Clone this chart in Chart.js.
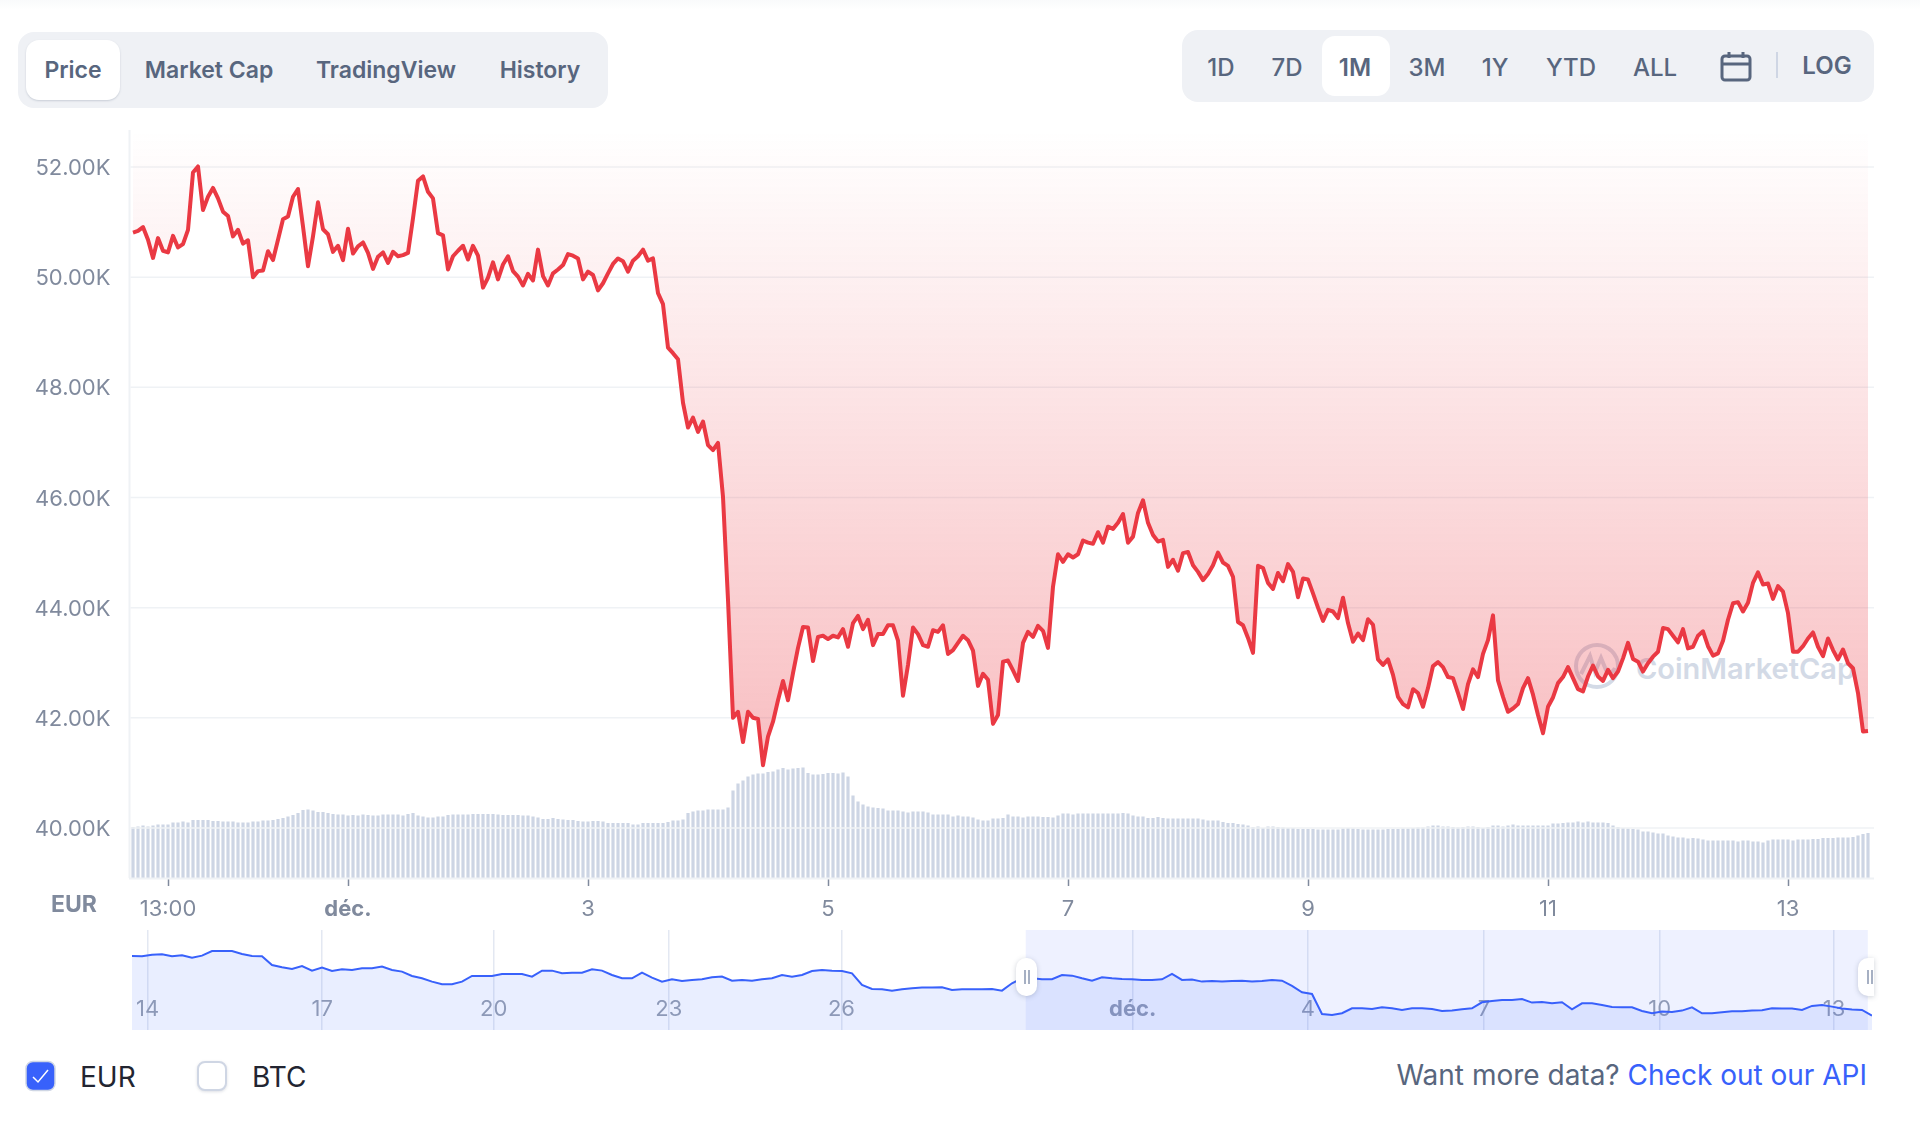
<!DOCTYPE html>
<html>
<head>
<meta charset="utf-8">
<title>Price chart</title>
<script src="https://cdn.jsdelivr.net/npm/chart.js@4/dist/chart.umd.min.js"></script>
<style>
    body { margin: 0; width: 1920px; height: 1126px; position: relative; overflow: hidden; background: #fff; font-family: Inter, sans-serif; }
    canvas { position: absolute; left: 0; z-index: 2; }
    .box { position: absolute; background: #eff1f5; border-radius: 16px; z-index: 3; }
    .on { position: absolute; background: #fff; border-radius: 13px; box-shadow: 0 1px 2px rgba(88,102,126,.25); z-index: 4; }
    .t { position: absolute; z-index: 5; color: #58667e; transform: translate(-50%, -50%); white-space: nowrap; }
    .tab { font-size: 23px; font-weight: 600; top: 70px; }
    .rng { font-size: 24px; font-weight: 500; top: 67px; }
    .handle { position: absolute; top: 958px; height: 38px; background: #fff; border-radius: 10px; box-shadow: 0 1px 5px rgba(88,102,126,.3); z-index: 5; }
    .handle i { position: absolute; top: 12px; width: 1.5px; height: 14px; background: #a6b0c3; }
</style>
</head>
<body>
<div style="position:absolute;left:0;top:0;width:1920px;height:10px;background:linear-gradient(#f9fafb,#fff)"></div>

<div class="box" style="left:18px;top:32px;width:590px;height:76px"></div>
<div class="on" style="left:26px;top:40px;width:94px;height:60px"></div>
<span class="t tab" style="left:73px">Price</span>
<span class="t tab" style="left:209px">Market Cap</span>
<span class="t tab" style="left:386px">TradingView</span>
<span class="t tab" style="left:540px">History</span>

<div class="box" style="left:1182px;top:30px;width:692px;height:72px"></div>
<div class="on" style="left:1322px;top:36px;width:68px;height:60px;box-shadow:none"></div>
<span class="t rng" style="left:1221px">1D</span>
<span class="t rng" style="left:1287px">7D</span>
<span class="t rng" style="left:1355px;font-weight:600">1M</span>
<span class="t rng" style="left:1427px">3M</span>
<span class="t rng" style="left:1495px">1Y</span>
<span class="t rng" style="left:1571px">YTD</span>
<span class="t rng" style="left:1655px">ALL</span>
<svg style="position:absolute;left:1720px;top:51px;z-index:5" width="32" height="31" viewBox="0 0 32 31" fill="none" stroke="#58667e" stroke-width="3">
    <rect x="2" y="5" width="28" height="24" rx="3"/>
    <path d="M2 13H30M9 1V7M23 1V7"/>
</svg>
<div style="position:absolute;left:1776px;top:52px;width:2px;height:26px;background:#cfd6e4;z-index:5"></div>
<span class="t" style="left:1827px;top:65px;font-size:24px;font-weight:600">LOG</span>

<svg style="position:absolute;left:1573px;top:642px;z-index:1" width="48" height="48" viewBox="0 0 48 48" fill="none" stroke="#d3dae6" stroke-width="4">
    <circle cx="24" cy="24" r="21"/>
    <path d="M8 32L17 14L22 30L28 16L33 28C35 32 40 31 42 26"/>
</svg>
<span style="position:absolute;left:1636px;top:651px;z-index:1;font-size:29px;font-weight:600;color:#d3dae6;white-space:nowrap">CoinMarketCap</span>

<canvas id="prix" width="1920" height="930" style="top:0"></canvas>
<span class="t" style="left:74px;top:904px;font-size:23px;font-weight:700;color:#808a9d">EUR</span>
<canvas id="mini" width="1920" height="110" style="top:930px"></canvas>

<div class="handle" style="left:1016px;width:21px"><i style="left:8px"></i><i style="left:12px"></i></div>
<div class="handle" style="left:1858px;width:16px;border-radius:10px 0 0 10px"><i style="left:9px"></i><i style="left:13px"></i></div>

<svg style="position:absolute;left:25px;top:1060px;z-index:5" width="31" height="32" viewBox="0 0 31 32">
    <rect x="1" y="1.5" width="29" height="29" rx="7" fill="#3861fb" stroke="#cfd6e4" stroke-width="1.5"/>
    <path d="M8 17L13 22L23 10" fill="none" stroke="#fff" stroke-width="1.5"/>
</svg>
<span style="position:absolute;left:80px;top:1060px;font-size:28px;color:#222531;z-index:5">EUR</span>
<div style="position:absolute;left:197px;top:1061px;width:30px;height:30px;box-sizing:border-box;border:2px solid #cfd6e4;border-radius:8px;background:#fff;box-shadow:0 1px 3px rgba(88,102,126,.2);z-index:5"></div>
<span style="position:absolute;left:252px;top:1060px;font-size:28px;color:#222531;z-index:5">BTC</span>
<span style="position:absolute;right:53px;top:1058px;font-size:28px;color:#58667e;white-space:nowrap;z-index:5">Want more data? <span style="color:#3861fb">Check out our API</span></span>

<script>
const prices = [
    50810,50840,50910,50680,50350,50710,50480,50450,50750,50540,50600,50860,51900,52010,51220,51460,51620,51430,51190,51110,
    50740,50860,50610,50670,50000,50110,50120,50470,50310,50680,51050,51100,51460,51600,50920,50200,50740,51360,50870,50780,
    50460,50570,50310,50880,50430,50560,50630,50440,50150,50370,50450,50260,50460,50380,50400,50440,51070,51750,51830,51550,
    51430,50800,50760,50140,50380,50480,50570,50320,50570,50390,49810,49990,50270,49960,50230,50380,50110,50010,49850,50060,
    49940,50500,50020,49850,50070,50140,50220,50420,50390,50340,49960,50100,50040,49760,49890,50070,50240,50340,50290,50100,
    50300,50380,50500,50300,50340,49710,49510,48720,48620,48510,47720,47270,47450,47190,47380,46950,46860,46990,46010,44140,
    42000,42110,41560,42110,42000,41980,41140,41660,41930,42320,42670,42320,42810,43270,43650,43640,43030,43470,43490,43430,
    43490,43460,43610,43290,43720,43850,43610,43780,43320,43520,43520,43680,43680,43400,42400,42960,43640,43520,43320,43290,
    43590,43560,43680,43160,43230,43360,43490,43410,43220,42580,42800,42690,41890,42050,43020,43040,42860,42670,43360,43560,
    43470,43670,43580,43270,44380,44970,44830,44970,44910,44970,45220,45180,45160,45370,45180,45470,45430,45540,45700,45180,
    45290,45720,45950,45540,45320,45200,45230,44740,44870,44670,44990,45010,44770,44650,44500,44610,44770,45000,44820,44760,
    44560,43740,43680,43450,43180,44760,44720,44450,44340,44630,44480,44790,44650,44190,44530,44510,44260,44000,43760,43960,
    43930,43810,44180,43720,43380,43530,43410,43790,43690,43060,42960,43060,42780,42380,42250,42190,42520,42450,42200,42540,
    42940,43010,42920,42740,42720,42450,42160,42610,42880,42740,43160,43410,43860,42680,42380,42110,42170,42250,42540,42720,
    42420,42050,41720,42200,42370,42630,42740,42920,42720,42520,42480,42750,42950,42750,42670,42870,42720,42840,43080,43360,
    43070,43020,42840,42990,43110,43200,43630,43610,43490,43370,43610,43260,43290,43490,43570,43300,43130,43170,43400,43780,
    44080,44100,43930,44090,44450,44640,44420,44440,44160,44390,44290,43900,43200,43200,43300,43440,43550,43290,43120,43440,
    43230,43060,43240,42990,42900,42450,41750,41760
];

// volume, in billions
const volumes = [
    25.5,25.7,26.2,25.7,26.2,26.7,26.7,26.7,27.7,27.7,
    28.2,27.7,29,29,29,29,28.5,28.5,28.2,28.2,
    28.2,27.7,27.7,27.7,28.2,28.2,28.7,28.7,29,29.5,
    30,30.7,31.5,32.5,34,34.2,33.7,33,33,32.5,
    32,31.7,31.7,31.2,31.5,31.2,31.7,31.5,31.2,31.2,
    31.7,31.7,31.7,31.7,31.2,32,32.5,31.2,30.7,30.2,
    30.3,30.7,30.8,31.5,31.7,31.7,31.7,31.7,32,32,
    32,32,32,31.8,31.5,31.5,31.5,31.5,31.2,31.2,
    30.7,30.2,29.5,29.5,30,29.5,29.2,29,29,28.5,
    28.3,28.3,28.5,28.5,28.3,27.5,27.5,27.5,27.5,27.5,
    26.7,26.7,27.5,27.5,27.5,27.5,27.5,28,28.7,28.7,
    29.2,32.5,33.3,33.8,33.8,34.3,34.3,34.3,34.3,35.3,
    43.7,47.2,48.7,50.8,51.7,52.2,52.3,53,53.3,54.2,
    55,54.2,54.7,55,55.2,52.5,51.7,51.7,52,52.5,
    52.5,52.2,52.7,50.8,41.2,38.3,36.7,35.8,35.3,35,
    34.7,33.7,33.7,33.7,33.3,32.8,33.3,33.3,33.3,32.8,
    31.7,31.7,31.7,31.7,30.8,31.2,30.8,30.8,30.3,29.2,
    28.8,28.8,29.7,29.7,30,31.7,30.8,30.8,30.3,30.8,
    30.8,30.8,30.5,30.5,30.3,31.3,32.2,32.2,31.7,32.2,
    32.2,32.2,32.2,32.2,32.2,32.2,32.2,32.2,32.5,32.2,
    31.2,30.8,30.8,30,30,30.5,30,29.7,29.7,29.7,
    29.7,29.7,29.7,29.7,29.2,28.7,28.7,28.7,28,27.5,
    27.5,27,26.7,26.3,25.5,25.8,25,25.8,25.8,25.5,
    25.2,25,25,24.5,24.5,24.5,24.5,24.3,24.3,24.3,
    24.3,24.3,24.7,25,24.8,24.5,24.2,24.2,24.2,24.2,
    24.2,24.5,24.5,24.5,24.7,24.8,25,25.3,25.3,25.8,
    26.2,26.2,25.8,25.8,25.5,25.3,25.5,25.8,25.8,25.5,
    25,25.5,26.2,26.2,25.8,26.2,26.7,26.2,26.2,26.2,
    26.2,26.2,26.2,26.2,27.2,27.2,27.5,27.8,27.8,28.2,
    27.8,28.3,27.8,27.8,27.8,27.5,26.2,25.5,25,24.7,
    24.5,24.2,23.3,23.3,22.8,22.2,22.2,21.3,20.8,20.3,
    20.3,19.7,20,19.7,19.2,18.7,18.7,18.7,18.7,18.7,
    18.7,18.3,18.7,18.7,18.3,18.3,17.8,18.7,19.2,19.2,
    19.2,19.2,18.8,19.2,19.2,19.2,19.5,19.5,20,20,
    20,20.3,20.3,20.3,20.5,21.3,22,22.5
];

// the overview strip under the chart, one reading every 4 hours or so
const miniPrices = [
    56800,56720,57140,57225,56720,56970,56380,56890,58070,58070,58070,57310,56800,56720,54520,53920,53500,54260,53080,53840,
    52990,53420,53250,53670,53670,54100,53250,52830,51730,51130,50290,49610,49610,50290,51730,51730,51730,52240,52240,52240,
    51560,53080,53080,52400,52570,52570,53420,53080,51980,51130,51130,52570,51300,50290,50880,50460,50710,50880,51390,51560,
    50540,50710,50540,50880,51130,51980,51560,51980,52990,53250,53080,52990,52400,49440,48430,48340,48000,48340,48600,48770,
    48770,48850,48170,48340,48340,48340,48430,48000,49870,51130,51130,50880,50880,51980,51810,51130,50540,51390,51130,50960,
    50880,50710,50710,50880,52240,50710,50800,50290,50460,50290,50460,50540,50290,50460,50710,50540,49190,47580,47160,42080,
    41830,42250,43520,43520,43350,43770,43520,43100,43520,43520,43350,42840,42930,43270,43520,45040,45380,45640,45640,45890,
    44960,45130,44790,45040,43270,44790,44790,44370,43860,43770,43770,42840,42250,42670,42590,42930,43770,42250,42250,42500,
    42760,42760,42930,43010,43520,43440,43440,43100,44110,44370,43940,43440,43180,43100,41660
];

const yTicks = [40000, 42000, 44000, 46000, 48000, 50000, 52000];
const xTickIndex = [7, 43, 91, 139, 187, 235, 283, 331];
const xTickLabels = ['13:00', 'déc.', '3', '5', '7', '9', '11', '13'];

// november days keep counting past 30 so the strip has one running axis
const miniTickDays = [14, 17, 19.95, 22.96, 25.93, 30.94, 33.95, 36.98, 40, 43];
const miniTickLabels = ['14', '17', '20', '23', '26', 'déc.', '4', '7', '10', '13'];
const miniFirstDay = 13.73;
const miniDayStep = 0.17197;
const selectedFrom = 29.1;
const selectedTo = 43.58;

const cinza = '#808a9d';

function carregarGrafico() {
    const tela = document.getElementById('prix');
    const fundo = tela.getContext('2d').createLinearGradient(0, 130, 0, 765);
    fundo.addColorStop(0, 'rgba(234,57,67,0)');
    fundo.addColorStop(1, 'rgba(234,57,67,0.33)');

    // grid has to sit over the bars but under the price fill, so it is stroked between the two
    const gradeEntreDatasets = {
        id: 'gradeEntreDatasets',
        afterDatasetDraw(chart, args) {
            if (args.index !== 1) return;
            const ctx = chart.ctx;
            const area = chart.chartArea;
            const escala = chart.scales.y;
            ctx.save();
            ctx.strokeStyle = '#eff2f5';
            ctx.lineWidth = 1.5;
            yTicks.forEach((v) => {
                const y = escala.getPixelForValue(v);
                ctx.beginPath();
                ctx.moveTo(area.left, y);
                ctx.lineTo(1874, y);
                ctx.stroke();
            });
            ctx.lineWidth = 2;
            ctx.beginPath();
            ctx.moveTo(129, area.bottom + 0.5);
            ctx.lineTo(1874, area.bottom + 0.5);
            ctx.moveTo(129.5, area.top);
            ctx.lineTo(129.5, area.bottom);
            ctx.stroke();
            ctx.restore();
        }
    };

    new Chart(tela, {
        type: 'bar',
        data: {
            labels: prices.map((_, i) => i),
            datasets: [{
                type: 'line',
                data: prices,
                yAxisID: 'y',
                borderColor: '#ea3943',
                borderWidth: 4,
                borderJoinStyle: 'round',
                pointRadius: 0,
                tension: 0,
                fill: 'end',
                backgroundColor: fundo,
                order: 1
            }, {
                data: volumes,
                yAxisID: 'vol',
                backgroundColor: '#cdd5e4',
                barPercentage: 0.64,
                categoryPercentage: 1,
                order: 2
            }]
        },
        options: {
            responsive: false,
            animation: false,
            layout: { padding: { top: 130, right: 49.5, left: 0, bottom: 0 } },
            plugins: { legend: { display: false }, tooltip: { enabled: false } },
            scales: {
                x: {
                    afterFit: (s) => { s.height = 52; },
                    afterBuildTicks: (s) => { s.ticks = xTickIndex.map((v) => ({ value: v })); },
                    grid: { offset: false, drawOnChartArea: false, tickLength: 8, tickColor: cinza, tickWidth: 1.5 },
                    border: { display: false },
                    ticks: {
                        autoSkip: false,
                        maxRotation: 0,
                        padding: 10,
                        color: cinza,
                        callback: (v) => xTickLabels[xTickIndex.indexOf(v)],
                        font: (c) => ({ family: 'Inter', size: 22, weight: c.tick && c.tick.label === 'déc.' ? '700' : '400' })
                    }
                },
                y: {
                    min: 39092,
                    max: 52672,
                    afterFit: (s) => { s.width = 130.5; },
                    afterBuildTicks: (s) => { s.ticks = yTicks.map((v) => ({ value: v })); },
                    grid: { drawOnChartArea: false, drawTicks: false },
                    border: { display: false },
                    ticks: {
                        padding: 20,
                        color: cinza,
                        // blank first line nudges the text down a little, to sit on its grid line
                        font: { family: 'Inter', size: 22, lineHeight: '3px' },
                        callback: (v) => ['', (v / 1000).toFixed(2) + 'K']
                    }
                },
                vol: { display: false, min: 0, max: 374 }
            }
        },
        plugins: [gradeEntreDatasets]
    });
}

function carregarMini() {
    const selecao = {
        id: 'selecao',
        afterDatasetsDraw(chart) {
            const x = chart.scales.x;
            const a = chart.chartArea;
            const ctx = chart.ctx;
            ctx.save();
            ctx.fillStyle = 'rgba(56,97,251,0.087)';
            ctx.fillRect(x.getPixelForValue(selectedFrom), a.top, x.getPixelForValue(selectedTo) - x.getPixelForValue(selectedFrom), a.bottom - a.top);
            ctx.restore();
        }
    };

    new Chart(document.getElementById('mini'), {
        type: 'line',
        data: {
            datasets: [{
                data: miniPrices.map((v, k) => ({ x: miniFirstDay + k * miniDayStep, y: v })),
                borderColor: '#3861fb',
                borderWidth: 2,
                pointRadius: 0,
                tension: 0,
                fill: 'start',
                backgroundColor: 'rgba(56,97,251,0.11)'
            }]
        },
        options: {
            responsive: false,
            animation: false,
            layout: { padding: { left: 132, right: 48, top: 0, bottom: 0 } },
            plugins: { legend: { display: false }, tooltip: { enabled: false } },
            scales: {
                x: {
                    type: 'linear',
                    min: miniFirstDay,
                    max: miniFirstDay + (miniPrices.length - 1) * miniDayStep,
                    afterFit: (s) => { s.height = 10; },
                    afterBuildTicks: (s) => { s.ticks = miniTickDays.map((v) => ({ value: v })); },
                    grid: { color: '#e3e8f2', lineWidth: 1.5, drawTicks: false },
                    border: { display: false },
                    ticks: {
                        autoSkip: false,
                        maxRotation: 0,
                        // mirror stops the axis clipping labels that sit inside the plot
                        mirror: true,
                        padding: 7,
                        color: '#98a0b0',
                        callback: (v) => miniTickLabels[miniTickDays.indexOf(v)],
                        font: (c) => ({ family: 'Inter', size: 22, weight: c.tick && c.tick.label === 'déc.' ? '700' : '400' })
                    }
                },
                y: { display: false, min: 38000, max: 63400 }
            }
        },
        plugins: [selecao]
    });
}

carregarGrafico();
carregarMini();
</script>
</body>
</html>
